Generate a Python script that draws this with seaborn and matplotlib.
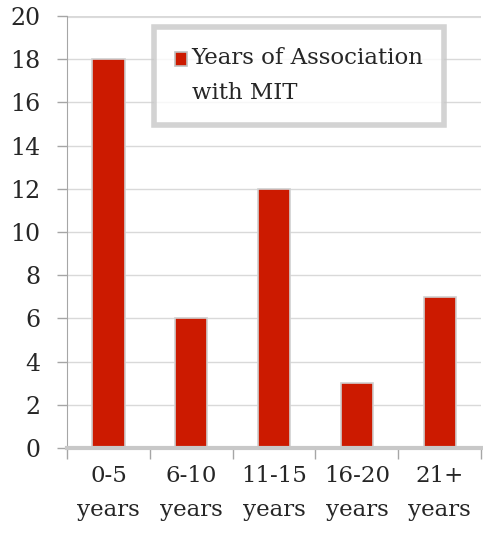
import numpy as np
import matplotlib.pyplot as plt
import seaborn as sns

# data
categories = ["0-5\nyears", "6-10\nyears", "11-15\nyears", "16-20\nyears", "21+\nyears"]
counts = [18, 6, 12, 3, 7]
series_name = "Years of Association\nwith MIT"

sns.set_style("white")
plt.rcParams['font.family'] = ['DejaVu Serif']

fig, ax = plt.subplots(figsize=(4.83, 5.34), dpi=100)
fig.subplots_adjust(left=0.139, right=0.996, top=0.97, bottom=0.161)

sns.barplot(x=categories, y=counts, color="#CC1A00", width=0.39,
            edgecolor="#d0d0d0", linewidth=1.2, saturation=1, ax=ax,
            label=series_name)

ax.set_ylim(0, 20)
ax.set_xlim(-0.5, 4.5)
ax.set_yticks(np.arange(0, 21, 2))
ax.yaxis.grid(True, color="#d9d9d9", linewidth=1)
ax.set_axisbelow(True)
ax.axhline(20, color="#dcdcdc", linewidth=3, zorder=0)

# tick marks sit between the categories
ax.set_xticks(np.arange(-0.5, 5, 1), minor=True)
ax.tick_params(axis='x', which='major', length=0, labelsize=16.5, pad=12)
ax.tick_params(axis='x', which='minor', length=8, width=1, color="#a6a6a6", direction='out', bottom=True)
ax.tick_params(axis='y', length=7, width=1, color="#a6a6a6", direction='out', left=True, labelsize=17, pad=12)
for t in ax.get_xticklabels():
    t.set_linespacing(1.75)

for s in ['top', 'right']:
    ax.spines[s].set_visible(False)
ax.spines['left'].set_color("#a6a6a6")
ax.spines['bottom'].set_color("#c8c8c8")
ax.spines['bottom'].set_linewidth(3)

leg = ax.legend(loc='upper left', bbox_to_anchor=(0.21, 0.975), fontsize=16.5,
                frameon=True, fancybox=False, handlelength=0.52, handleheight=0.52,
                handletextpad=0.22, borderpad=0.9, borderaxespad=0)
leg.get_frame().set_edgecolor("#c8c8c8")
leg.get_frame().set_linewidth(4)
for t in leg.get_texts():
    t.set_linespacing(1.75)
for h in leg.legend_handles:
    h.set_edgecolor("#c0c0c0")
    # put the swatch next to the first line, not the middle of the label
    h.set_y(h.get_y() + 12.5)

fig.savefig("out.png", dpi=100)
